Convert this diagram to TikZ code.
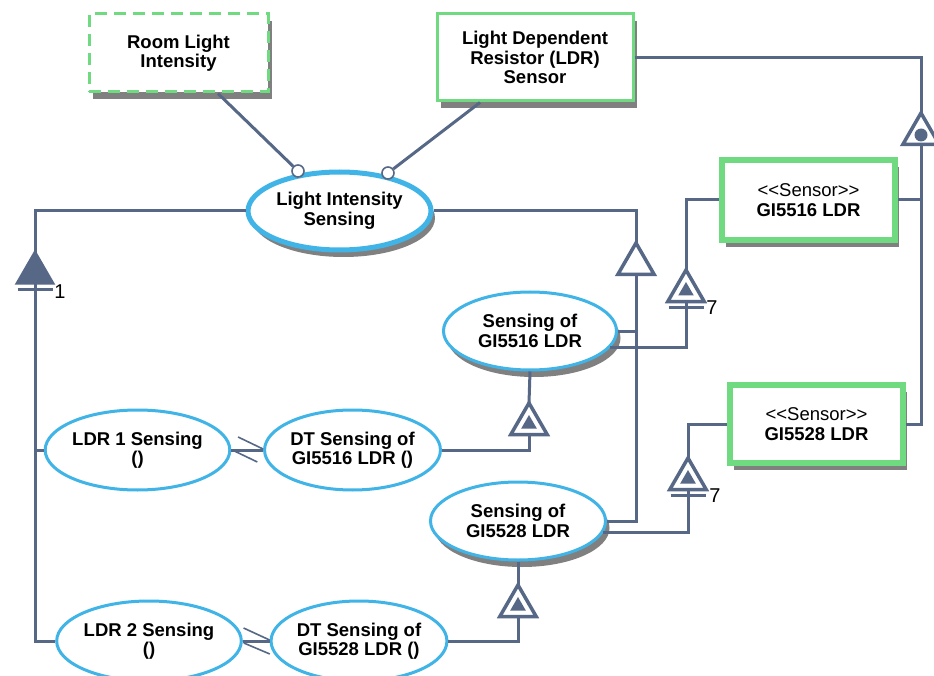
\documentclass[tikz,border=0pt]{standalone}
\usepackage{fontspec}
\setmainfont{Liberation Sans}
\usetikzlibrary{shapes.geometric}
\definecolor{linec}{RGB}{86,104,134}
\definecolor{ellc}{RGB}{64,180,230}
\definecolor{boxg}{RGB}{112,218,128}
\definecolor{shade}{RGB}{128,128,128}
\begin{document}
\begin{tikzpicture}[x=1pt,y=-1pt,
  txt/.style={font=\fontsize{18.5}{19.5}\selectfont\bfseries, align=center, text=black},
  shadowed/.style={preaction={draw=none, fill=shade, transform canvas={shift={(4pt,-7pt)}}}},
  usecase/.style={ellipse, draw=ellc, line width=3pt, fill=white, inner sep=0pt, txt},
  shcase/.style={usecase, shadowed},
  bigcase/.style={usecase, line width=5pt, shadowed},
  block/.style={rectangle, draw=boxg, line width=3pt, fill=white, inner sep=0pt, txt, shadowed},
  sensorblock/.style={block, line width=5.5pt},
  conn/.style={draw=linec, line width=3pt},
  thinconn/.style={draw=linec, line width=1.6pt},
  tri/.style={regular polygon, regular polygon sides=3, draw=linec, line width=3.5pt,
              fill=white, minimum size=42pt, inner sep=0pt, outer sep=0pt},
  trifill/.style={tri, fill=linec, minimum size=40pt},
  innertri/.style={regular polygon, regular polygon sides=3, fill=linec, draw=none,
                   minimum size=18pt, inner sep=0pt},
  port/.style={circle, draw=linec, line width=1.6pt, fill=white, minimum size=12pt, inner sep=0pt},
  num/.style={font=\fontsize{20}{21}\selectfont, text=black, inner sep=0pt}]

\useasboundingbox[fill=white] (0,0) rectangle (934,676);

% blocks
\node[block, dashed, dash pattern=on 12pt off 7pt, minimum width=179pt, minimum height=78pt] (room) at (178.5,53) {Room Light\\Intensity};
\node[block, minimum width=196pt, minimum height=87pt] (ldr) at (535,57.5) {Light Dependent\\Resistor (LDR)\\Sensor};
\node[sensorblock, minimum width=173pt, minimum height=80pt] (g16) at (808.5,200) {{\mdseries <{}<Sensor>{}>}\\GI5516 LDR};
\node[sensorblock, minimum width=173pt, minimum height=78pt] (g28) at (816.5,424) {{\mdseries <{}<Sensor>{}>}\\GI5528 LDR};

% use cases
\node[bigcase, minimum width=183pt, minimum height=78pt] (lis) at (339.5,211) {Light Intensity\\Sensing};
\node[shcase, minimum width=173pt, minimum height=78pt] (s16) at (530,331) {Sensing of\\GI5516 LDR};
\node[shcase, minimum width=175pt, minimum height=78pt] (s28) at (518,521) {Sensing of\\GI5528 LDR};
\node[usecase, minimum width=179pt, minimum height=80pt] (l1) at (137.5,450) {LDR 1 Sensing\\()};
\node[usecase, minimum width=171pt, minimum height=80pt] (dt1) at (352.5,450) {DT Sensing of\\GI5516 LDR ()};
\node[usecase, minimum width=178pt, minimum height=80pt] (l2) at (149,641) {LDR 2 Sensing\\()};
\node[usecase, minimum width=172pt, minimum height=80pt] (dt2) at (359,641) {DT Sensing of\\GI5528 LDR ()};

% relation triangles
\node[trifill] (t1) at (35,273) {};
\node[tri] (t2) at (636,264) {};
\node[tri] (t3) at (686,291) {};
\node[innertri] (t3i) at (686,291) {};
\node[tri] (t4) at (688,479) {};
\node[innertri] (t4i) at (688,479) {};
\node[tri] (t5) at (529,424) {};
\node[innertri] (t5i) at (529,424) {};
\node[tri] (t6) at (518,606) {};
\node[innertri] (t6i) at (518,606) {};
\node[tri] (t7) at (921,134) {};
\node[circle, fill=linec, minimum size=13pt, inner sep=0pt] (t7c) at (921,135) {};

% ports on the main use case
\node[port] (c1) at (298,171) {};
\node[port] (c2) at (388,173) {};

% connectors
\draw[conn] ([xshift=39.5pt]room.south) -- (c1);
\draw[conn] ([xshift=-55pt]ldr.south) -- (c2);

\draw[conn] (lis.west) -| (t1.corner 1);
\draw[conn] (t1.side 2) |- (l2.west);
\draw[conn] (l1.west) -- (l1.west -| t1.side 2);

\draw[conn] (lis.east) -| (t2.corner 1);
\draw[conn] (t2.side 2) |- (s28.east);
\draw[conn] (s16.east) -- (s16.east -| t2.side 2);

\draw[conn] (s16.-12) -| (t3.side 2);
\draw[conn] (t3.corner 1) |- (g16.west);
\draw[conn] (s28.-8) -| (t4.side 2);
\draw[conn] (t4.corner 1) |- (g28.west);

\draw[conn] (ldr.east) -| (t7.corner 1);
\draw[conn] (t7.side 2) |- (g28.east);
\draw[conn] (g16.east) -- (g16.east -| t7.side 2);

\draw[conn] (s16.south) -- (t5.corner 1);
\draw[conn] (t5.side 2) |- (dt1.east);
\draw[conn] (s28.south) -- (t6.corner 1);
\draw[conn] (t6.side 2) |- (dt2.east);

\draw[conn] (l1.east) -- (dt1.west);
\draw[thinconn] ([shift={(-25,-13)}]dt1.west) -- ([shift={(0,-1)}]dt1.west);
\draw[thinconn] ([shift={(1,0)}]l1.east) -- ([shift={(26,12)}]l1.east);
\draw[conn] (l2.east) -- (dt2.west);
\draw[thinconn] ([shift={(-26,-13)}]dt2.west) -- ([shift={(0,-1)}]dt2.west);
\draw[thinconn] ([shift={(1,2)}]l2.east) -- ([shift={(27,13)}]l2.east);

% multiplicity bars and labels
\draw[conn] ([shift={(-17.5,7)}]t1.side 2) -- ([shift={(17.5,7)}]t1.side 2);
\draw[conn] ([shift={(-17.5,6)}]t3.side 2) -- ([shift={(17.5,6)}]t3.side 2);
\draw[conn] ([shift={(-17.5,6)}]t4.side 2) -- ([shift={(17.5,6)}]t4.side 2);
\node[num] (m1) at (60,292) {1};
\node[num] (m7a) at (712,308) {7};
\node[num] (m7b) at (715,496) {7};
\end{tikzpicture}
\end{document}
